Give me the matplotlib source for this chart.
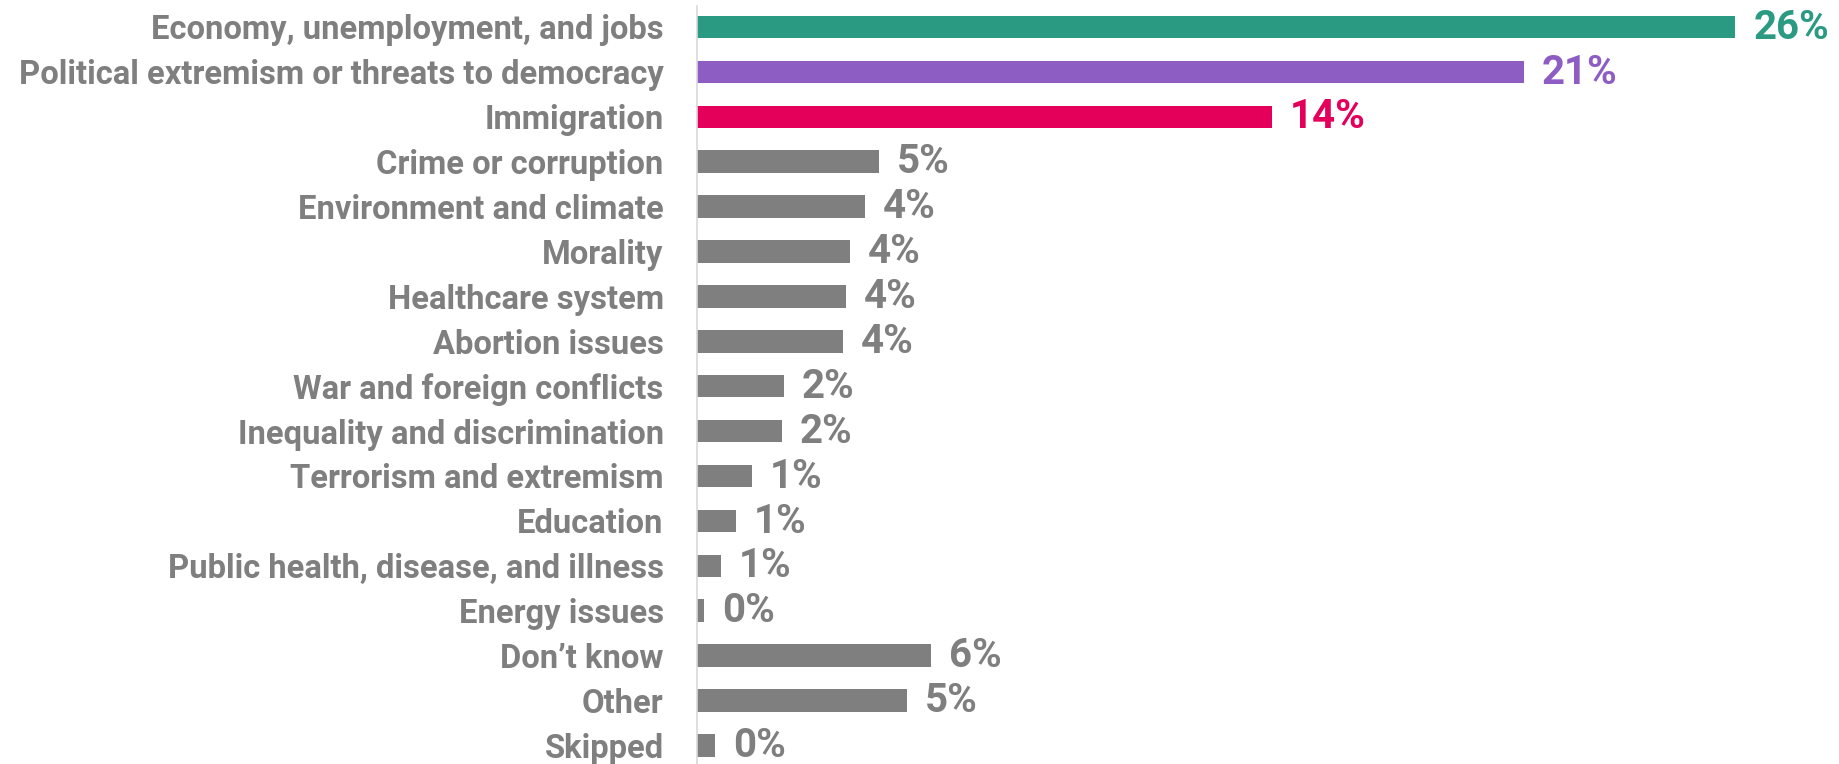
import matplotlib
matplotlib.use('Agg')
import matplotlib.pyplot as plt

# Data
categories = [
    'Economy, unemployment, and jobs',
    'Political extremism or threats to democracy',
    'Immigration',
    'Crime or corruption',
    'Environment and climate',
    'Morality',
    'Healthcare system',
    'Abortion issues',
    'War and foreign conflicts',
    'Inequality and discrimination',
    'Terrorism and extremism',
    'Education',
    'Public health, disease, and illness',
    'Energy issues',
    'Don\u2019t know',
    'Other',
    'Skipped',
]
values = [26.0, 20.7, 14.4, 4.56, 4.21, 3.83, 3.73, 3.66, 2.18, 2.13,
          1.38, 0.98, 0.60, 0.18, 5.86, 5.26, 0.45]
labels = ['26%', '21%', '14%', '5%', '4%', '4%', '4%', '4%', '2%', '2%',
          '1%', '1%', '1%', '0%', '6%', '5%', '0%']

GRAY = '#7f7f7f'
colors = ['#2a9a83', '#8e5dc4', '#e4005a'] + [GRAY] * (len(categories) - 3)

plt.rcParams['font.family'] = ['Roboto', 'DejaVu Sans']

fig = plt.figure(figsize=(18.39, 7.64), dpi=100)
ax = fig.add_axes([697 / 1839, 0.0, 1 - 697 / 1839, 1.0])

ypos = list(range(len(categories)))
ax.barh(ypos, values, height=0.5, color=colors)

ax.set_xlim(0, 28.6)
ax.set_ylim(16.415, -0.601)

ax.set_yticks(ypos)
ax.set_yticklabels(categories, fontsize=23.6, fontweight='bold', color=GRAY)
ax.tick_params(axis='y', length=0, pad=24)
ax.set_xticks([])

for s in ['top', 'right', 'bottom']:
    ax.spines[s].set_visible(False)
ax.spines['left'].set_color('#d9d9d9')
ax.spines['left'].set_linewidth(1.2)
ax.spines['left'].set_bounds(16.415, -0.47)

# value labels
for y, v, lab, c in zip(ypos, values, labels, colors):
    ax.annotate(lab, (v, y), xytext=(13, -0.5), textcoords='offset points',
                ha='left', va='center', fontsize=29, fontweight='bold', color=c)

fig.savefig('out.png', dpi=100)
